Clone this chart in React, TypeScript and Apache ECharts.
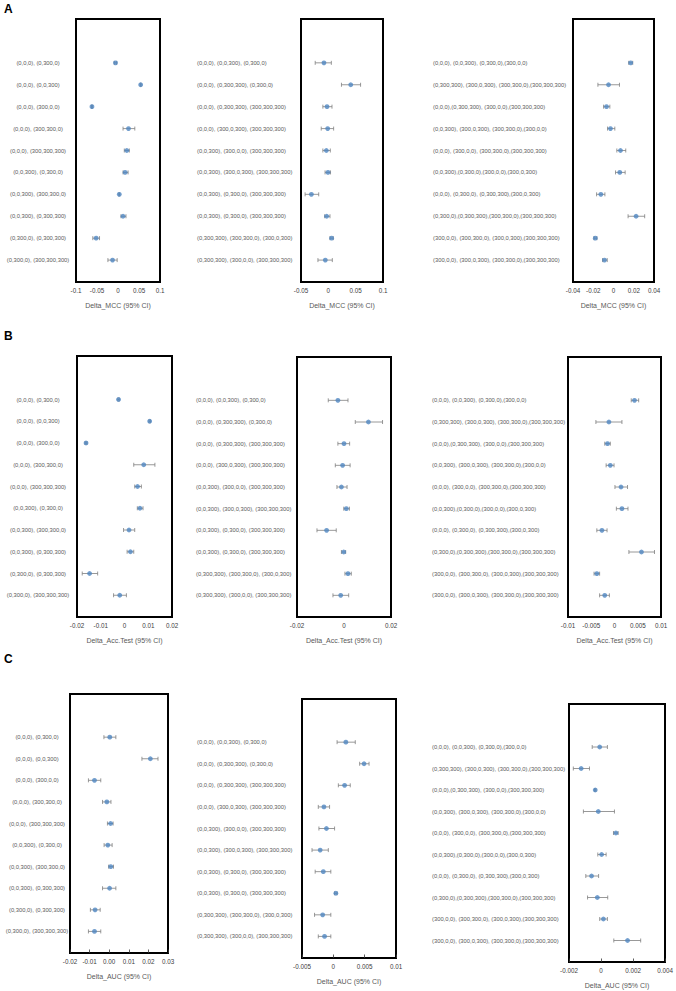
import React, { useEffect, useRef } from "react";
import * as echarts from "echarts";

// ---- Row labels ----
const pairLabels = [
  "(0,0,0), (0,300,0)",
  "(0,0,0), (0,0,300)",
  "(0,0,0), (300,0,0)",
  "(0,0,0), (300,300,0)",
  "(0,0,0), (300,300,300)",
  "(0,0,300), (0,300,0)",
  "(0,0,300), (300,300,0)",
  "(0,0,300), (0,300,300)",
  "(0,300,0), (0,300,300)",
  "(0,300,0), (300,300,300)",
];
const tripleLabels = [
  "(0,0,0), (0,0,300), (0,300,0)",
  "(0,0,0), (0,300,300), (0,300,0)",
  "(0,0,0), (0,300,300), (300,300,300)",
  "(0,0,0), (300,0,300), (300,300,300)",
  "(0,0,300), (300,0,0), (300,300,300)",
  "(0,0,300), (300,0,300), (300,300,300)",
  "(0,0,300), (0,300,0), (300,300,300)",
  "(0,0,300), (0,300,0), (300,300,300)",
  "(0,300,300), (300,300,0), (300,0,300)",
  "(0,300,300), (300,0,0), (300,300,300)",
];
const quadLabels = [
  "(0,0,0), (0,0,300), (0,300,0),(300,0,0)",
  "(0,300,300), (300,0,300), (300,300,0),(300,300,300)",
  "(0,0,0),(0,300,300), (300,0,0),(300,300,300)",
  "(0,0,300), (300,0,300), (300,300,0),(300,0,0)",
  "(0,0,0), (300,0,0), (300,300,0),(300,300,300)",
  "(0,0,300),(0,300,0),(300,0,0),(300,0,300)",
  "(0,0,0), (0,300,0), (0,300,300),(300,0,300)",
  "(0,300,0),(0,300,300),(300,300,0),(300,300,300)",
  "(300,0,0), (300,300,0), (300,0,300),(300,300,300)",
  "(300,0,0), (300,0,300), (300,300,0),(300,300,300)",
];

// ---- Axis titles ----
const mccTitle = "Delta_MCC (95% CI)";
const accTitle = "Delta_Acc.Test (95% CI)";
const aucTitle = "Delta_AUC (95% CI)";

// ---- A: Delta MCC ----
const mccPairMean = [-0.006, 0.054, -0.062, 0.025, 0.021, 0.017, 0.003, 0.012, -0.052, -0.013];
const mccPairLow = [-0.009, 0.053, -0.063, 0.012, 0.015, 0.012, 0.002, 0.007, -0.06, -0.024];
const mccPairHigh = [-0.003, 0.055, -0.061, 0.04, 0.027, 0.024, 0.004, 0.019, -0.044, -0.002];

const mccTripleMean = [-0.008, 0.041, -0.0024, -0.0012, -0.0036, -0.0006, -0.031, -0.003, 0.006, -0.0055];
const mccTripleLow = [-0.024, 0.024, -0.01, -0.013, -0.01, -0.006, -0.0425, -0.0067, 0.003, -0.019];
const mccTripleHigh = [0.0055, 0.059, 0.0067, 0.0097, 0.0036, 0.004, -0.0176, 0.003, 0.009, 0.0073];

const mccQuadMean = [0.017, -0.0049, -0.0069, -0.003, 0.0069, 0.0062, -0.0125, 0.0223, -0.018, -0.0089];
const mccQuadLow = [0.015, -0.0154, -0.0098, -0.0059, 0.0033, 0.002, -0.0167, 0.0144, -0.0193, -0.0108];
const mccQuadHigh = [0.019, 0.0059, -0.0036, 0.0013, 0.0121, 0.0115, -0.0085, 0.0308, -0.0164, -0.0062];

// ---- B: Delta Acc.Test ----
const accPairMean = [-0.0025, 0.0106, -0.0162, 0.0081, 0.0055, 0.0065, 0.0019, 0.0025, -0.0147, -0.002];
const accPairLow = [-0.0028, 0.0103, -0.0166, 0.0039, 0.0043, 0.0054, -0.0004, 0.0011, -0.0178, -0.0046];
const accPairHigh = [-0.0022, 0.0109, -0.0158, 0.0128, 0.0071, 0.0078, 0.0043, 0.0039, -0.0113, 0.0008];

const accTripleMean = [-0.0026, 0.0104, 0, -0.0006, -0.0011, 0.001, -0.0074, -0.0001, 0.0017, -0.0014];
const accTripleLow = [-0.0067, 0.0048, -0.0026, -0.0037, -0.003, -0.0001, -0.0115, -0.0011, 0.0004, -0.0047];
const accTripleHigh = [0.0017, 0.0164, 0.0024, 0.0026, 0.0013, 0.0023, -0.0033, 0.0007, 0.0031, 0.002];

const accQuadMean = [0.0043, -0.0012, -0.0015, -0.0009, 0.0014, 0.0016, -0.0027, 0.0058, -0.0038, -0.0021];
const accQuadLow = [0.0036, -0.004, -0.0021, -0.0018, 0.0001, 0.0004, -0.0038, 0.0031, -0.0044, -0.0032];
const accQuadHigh = [0.0052, 0.0016, -0.0009, -0.0001, 0.0028, 0.0029, -0.0016, 0.0086, -0.0032, -0.0011];

// ---- C: Delta AUC ----
const aucPairMean = [0.0003, 0.021, -0.0075, -0.0012, 0.0007, -0.0007, 0.0008, 0.0002, -0.0072, -0.0075];
const aucPairLow = [-0.0027, 0.0167, -0.0106, -0.0034, -0.0009, -0.0026, -0.0003, -0.0034, -0.0096, -0.0106];
const aucPairHigh = [0.0034, 0.0249, -0.0043, 0.0009, 0.002, 0.0015, 0.0022, 0.0034, -0.0046, -0.0043];

const aucTripleMean = [0.002, 0.0049, 0.0018, -0.0015, -0.0011, -0.0021, -0.0016, 0.0004, -0.0017, -0.0014];
const aucTripleLow = [0.0006, 0.0042, 0.0008, -0.0024, -0.0023, -0.0034, -0.0029, 0.0002, -0.003, -0.0024];
const aucTripleHigh = [0.0035, 0.0057, 0.0027, -0.0006, 0.0002, -0.0008, -0.0004, 0.0006, -0.0004, -0.0004];

const aucQuadMean = [-0.00008, -0.00124, -0.00036, -0.00017, 0.00093, 0.00004, -0.00059, -0.00023, 0.00015, 0.00166];
const aucQuadLow = [-0.00055, -0.00173, -0.0004, -0.0011, 0.00078, -0.0002, -0.00095, -0.00084, -0.00008, 0.0008];
const aucQuadHigh = [0.0004, -0.00072, -0.00032, 0.00084, 0.00107, 0.00032, -0.00015, 0.00042, 0.0004, 0.00248];

const panelLetters = ["A", "B", "C"];

type Panel = {
  labels: string[];
  mean: number[];
  low: number[];
  high: number[];
  title: string;
  min: number;
  max: number;
  interval: number;
  decimals?: number;
  grid: { left: number; top: number; width: number; height: number };
  labelAlign: "left" | "center";
  labelMargin: number;
  ticks?: boolean;
};

const panels: Panel[] = [
  { labels: pairLabels, mean: mccPairMean, low: mccPairLow, high: mccPairHigh, title: mccTitle, min: -0.1, max: 0.1, interval: 0.05,
    grid: { left: 76, top: 19, width: 84, height: 263 }, labelAlign: "center", labelMargin: 38 },
  { labels: tripleLabels, mean: mccTripleMean, low: mccTripleLow, high: mccTripleHigh, title: mccTitle, min: -0.05, max: 0.1, interval: 0.05,
    grid: { left: 301, top: 19, width: 82, height: 263 }, labelAlign: "left", labelMargin: 104 },
  { labels: quadLabels, mean: mccQuadMean, low: mccQuadLow, high: mccQuadHigh, title: mccTitle, min: -0.04, max: 0.04, interval: 0.02,
    grid: { left: 573, top: 19, width: 81, height: 263 }, labelAlign: "left", labelMargin: 140 },
  { labels: pairLabels, mean: accPairMean, low: accPairLow, high: accPairHigh, title: accTitle, min: -0.02, max: 0.02, interval: 0.01,
    grid: { left: 77, top: 356, width: 95, height: 261 }, labelAlign: "center", labelMargin: 39 },
  { labels: tripleLabels, mean: accTripleMean, low: accTripleLow, high: accTripleHigh, title: accTitle, min: -0.02, max: 0.02, interval: 0.02,
    grid: { left: 297, top: 357, width: 94, height: 260 }, labelAlign: "left", labelMargin: 101 },
  { labels: quadLabels, mean: accQuadMean, low: accQuadLow, high: accQuadHigh, title: accTitle, min: -0.01, max: 0.01, interval: 0.005,
    grid: { left: 568, top: 357, width: 93, height: 260 }, labelAlign: "left", labelMargin: 136 },
  { labels: pairLabels, mean: aucPairMean, low: aucPairLow, high: aucPairHigh, title: aucTitle, min: -0.02, max: 0.03, interval: 0.01, decimals: 2,
    grid: { left: 70, top: 694, width: 98, height: 259 }, labelAlign: "center", labelMargin: 33, ticks: true },
  { labels: tripleLabels, mean: aucTripleMean, low: aucTripleLow, high: aucTripleHigh, title: aucTitle, min: -0.005, max: 0.01, interval: 0.005,
    grid: { left: 302, top: 699, width: 94, height: 259 }, labelAlign: "left", labelMargin: 105, ticks: true },
  { labels: quadLabels, mean: aucQuadMean, low: aucQuadLow, high: aucQuadHigh, title: aucTitle, min: -0.002, max: 0.004, interval: 0.002,
    grid: { left: 569, top: 704, width: 96, height: 258 }, labelAlign: "left", labelMargin: 137, ticks: true },
];

const FONT = "'Liberation Sans', Arial, sans-serif";
const POINT = "#4f86c0";
const BAR = "#7f7f7f";

function fmt(v: number, decimals?: number) {
  if (decimals !== undefined) return v.toFixed(decimals);
  const r = Math.round(v * 1e6) / 1e6;
  return String(r);
}

export default function App() {
  const ref = useRef<HTMLDivElement>(null);
  useEffect(() => {
    if (!ref.current) return;
    const chart = echarts.init(ref.current, undefined, { renderer: "svg" });
    const grids: any[] = [];
    const xAxes: any[] = [];
    const yAxes: any[] = [];
    const series: any[] = [];
    panels.forEach((p, i) => {
      grids.push({ ...p.grid, show: true, borderColor: "#000", borderWidth: 2, backgroundColor: "transparent" });
      xAxes.push({
        type: "value",
        gridIndex: i,
        position: "bottom",
        min: p.min,
        max: p.max,
        interval: p.interval,
        splitLine: { show: false },
        axisLine: { show: false, onZero: false },
        axisTick: { show: !!p.ticks, inside: true, length: 3.5, lineStyle: { color: "#333", width: 0.8 } },
        axisLabel: {
          fontSize: 6.3,
          color: "#404040",
          fontFamily: FONT,
          margin: 5,
          formatter: (v: number) => fmt(v, p.decimals),
        },
        name: p.title,
        nameLocation: "middle",
        nameGap: 20,
        nameTextStyle: { fontSize: 7, color: "#595959", fontFamily: FONT },
      });
      yAxes.push({
        type: "value",
        gridIndex: i,
        inverse: true,
        min: 0,
        max: 12,
        interval: 1,
        splitLine: { show: false },
        axisLine: { show: false, onZero: false },
        axisTick: { show: false },
        axisLabel: {
          show: true,
          fontSize: 5.8,
          color: "#595959",
          fontFamily: FONT,
          align: p.labelAlign,
          margin: p.labelMargin,
          showMinLabel: true,
          showMaxLabel: true,
          formatter: (v: number) => {
            const idx = Math.round(v) - 2;
            return idx >= 0 && idx < p.labels.length ? p.labels[idx] : "";
          },
        },
      });
      series.push({
        type: "custom",
        xAxisIndex: i,
        yAxisIndex: i,
        clip: false,
        silent: true,
        encode: { x: [0, 1], y: 2 },
        data: p.mean.map((_, k) => [p.low[k], p.high[k], k + 2]),
        renderItem: (params: any, api: any) => {
          const a = api.coord([api.value(0), api.value(2)]);
          const b = api.coord([api.value(1), api.value(2)]);
          const c = 2;
          const style = { stroke: BAR, lineWidth: 0.8 };
          return {
            type: "group",
            children: [
              { type: "line", shape: { x1: a[0], y1: a[1], x2: b[0], y2: b[1] }, style },
              { type: "line", shape: { x1: a[0], y1: a[1] - c, x2: a[0], y2: a[1] + c }, style },
              { type: "line", shape: { x1: b[0], y1: b[1] - c, x2: b[0], y2: b[1] + c }, style },
            ],
          };
        },
      });
      series.push({
        type: "scatter",
        xAxisIndex: i,
        yAxisIndex: i,
        symbol: "circle",
        symbolSize: 4.8,
        silent: true,
        itemStyle: { color: POINT },
        data: p.mean.map((m, k) => [m, k + 2]),
      });
    });
    const letterTops = [3, 330, 653];
    const graphic = panelLetters.map((t, i) => ({
      type: "text",
      left: 4,
      top: letterTops[i],
      style: { text: t, fontSize: 12, fontWeight: "bold", fill: "#000", fontFamily: FONT },
    }));
    chart.setOption({
      animation: false,
      backgroundColor: "#fff",
      grid: grids,
      xAxis: xAxes,
      yAxis: yAxes,
      series,
      graphic,
    });
    return () => chart.dispose();
  }, []);
  return (
    <div
      ref={ref}
      style={{ position: "fixed", left: 0, top: 0, width: 676, height: 991, background: "#fff" }}
    />
  );
}
